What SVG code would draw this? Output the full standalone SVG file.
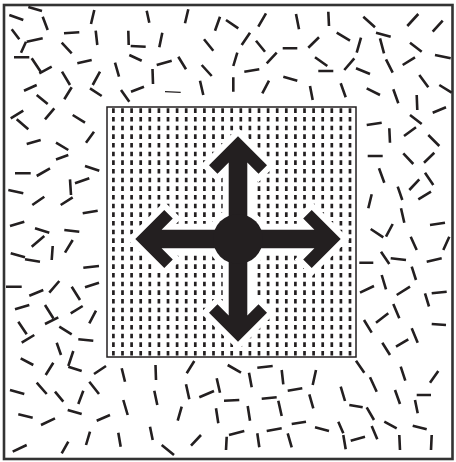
<svg xmlns="http://www.w3.org/2000/svg" width="456" height="462" viewBox="0 0 456 462">
<style>
.frame{fill:none;stroke:#333;stroke-width:2.6}
.inner{fill:#fff;stroke:#231f20;stroke-width:1.5}
.hatch{fill:none;stroke:#231f20;stroke-width:2.7;stroke-dasharray:4.6 4.067}
.dash{fill:none;stroke:#231f20;stroke-width:2.6;stroke-linecap:butt}
.thin{fill:none;stroke:#231f20;stroke-width:1.2}
.halo{fill:#fff;stroke:#fff;stroke-width:12;stroke-linejoin:miter}
.solid{fill:#231f20;stroke:none}
</style>
<defs>
<g id="arrowShape">
<polygon points="238,136.3 267,165.3 258.5,173.8 247.3,162.6 247.3,229.7 314.4,229.7 303.2,218.5 311.7,210 340.7,239 311.7,268 303.2,259.5 314.4,248.3 247.3,248.3 247.3,315.4 258.5,304.2 267,312.7 238,341.7 209,312.7 217.5,304.2 228.7,315.4 228.7,248.3 161.6,248.3 172.8,259.5 164.3,268 135.3,239 164.3,210 172.8,218.5 161.6,229.7 228.7,229.7 228.7,162.6 217.5,173.8 209,165.3"/>
<circle cx="238" cy="239" r="25"/>
</g>
</defs>
<rect width="456" height="462" fill="#fff"/>
<rect class="frame" x="4" y="5" width="448.5" height="454"/>
<g id="scatter">
<path class="dash" d="M9.3 15L23.3 20M28.3 7L42 11M42.7 16.7L47.7 30M94.3 10L91 24M146.7 10.7L149.3 22.7M11.7 29.3L19.3 39.3M26.7 41.7L42.7 38.3M26 41.7L21 52.7M64 33.3L79.3 32.3M95.7 30.7L97.3 45M128.3 30.7L128.7 45M130.7 46L145.7 46.7M61.7 42.7L71.7 53.3M14 57.3L29.3 57.3M31.7 58.3L40.7 71.7M39.3 73.3L51.7 66.7M77.3 63.3L91.7 60M115 62.7L119 76.7M129.3 55L141.7 60.7M152.5 69L153 84M62 71.7L70 85M100 71.7L92.7 85M24 90.7L36.7 85M71.7 87.3L64.3 99.3M90 88.3L101.7 96M121 90L129.3 101.7M131 91.7L144 86.7M36.7 95L47.7 104M10.7 118.3L23.3 110.7M16.7 119.3L28.3 129.3M54.3 108.3L45 119.3M72.7 115L85 122.7M94 131.7L86 142.7M26.7 144L40.7 140M56 142.7L68.3 150M56 159.5L68.3 155"/>
<path class="dash" d="M188.3 9.3L185 23.3M220 16.7L215 30.7M226 20L238.3 28.3M266 13.3L258.3 26.7M296 14L299 29.3M162.3 32.7L159.3 47.3M250 32.7L241.7 45M204 39.3L213.3 50.7M256 40.7L265 51.7M282.7 48.3L297.3 48.3M156.7 65L171.7 60.7M178.3 56.7L186 69.3M276.7 52.7L266.7 63.3M237.3 52.7L233.3 66M201.7 65L211.7 76M244.3 71.7L259.3 69.3M200 80.7L203.3 95M233.3 77.3L233.3 91.7M269 80.7L262.3 93.3M283.3 76.7L297.3 80.7"/>
<path class="thin" d="M165 91.7L180.7 92.3"/>
<path class="dash" d="M328.3 11.7L329 26M363.3 16.7L375 27.3M407.3 26L418.3 14M432.7 31.7L442.7 20.7M308.3 47.7L319 37.3M336.7 32.7L350 40.7M376 32.7L390.7 36.7M361 37.7L356.7 52.7M380 38.3L384 53.3M410 42.7L421.7 51.7M435 55L450.7 58.3M315 57.3L327.3 66M354.3 58.3L344.3 70M386 59.3L392.7 72.7M402.7 65L415 57.3M318.3 71L333.3 71M356 68.3L370 74M419.3 75L428.3 87.3M439.3 85L451.7 92.7M310 86L312.7 100M340.7 83.3L345.7 97.3M366.7 88.3L380 95M393.3 89.3L398.3 103.3M416.7 95L417.3 110M432.7 112.7L446 107.3M410 115L421.7 124M366.7 125L381.7 122.7M404 136L416 127.3M389.3 128.3L390 142.7M428.3 135L439.3 146"/>
<path class="dash" d="M15 173.3L30.7 173.3M36.7 176L50 168.3M85 166L99.3 170.7M70 179.3L71 195M75 183.3L89.3 178.3M8.3 190L23.3 193.3M32.3 205L44.3 196.7M60.7 205L72.7 197.3M82.7 213.3L97.7 210.7M10 226L24.3 221.7M35 228.3L49.3 232.7M64.3 230L79.3 231.7M31.7 246.7L44.3 236M52.7 246L51.7 260M72.7 240L65 252.7M10.7 253.3L25 257.3M25 259.3L40 261.7M83.3 267.7L99 266M6 286.7L21.7 286.7M29.3 295.7L43.3 290M49.3 292.7L59.3 281M71.7 286.7L80 300M85 287.3L99 282.7"/>
<path class="dash" d="M367.7 156L382.7 156M403.3 153.3L413.3 164M424 162.7L434.3 152.7M379 168.3L384.3 182.7M425 172.7L433.3 185M409.3 190L419.3 179.3M397.7 186.7L402.3 200M418.3 199.3L431 191.7M371.7 194.3L368.3 208.3M401 208.3L404.3 222.7M430 225L445 222.7M370.7 229L383.3 237.3M392.7 224L386 236.7M410.7 236.7L416.7 250M449.3 236.7L443.3 250M381 251.7L389.3 264M390.7 258.3L406 260M359.3 262.7L373.3 262.7M426.7 261.7L441.7 258.3M411.7 266.7L416 280M381.7 275L386 289.3M360 292.7L374 286M396.7 295L410 286.7M431.7 293.3L446.7 291.7M425 293.3L429 306.5"/>
<path class="dash" d="M15 309.3L29.3 305M45 305L53.3 318.3M45 324L58.3 317.3M70.7 313.3L82.7 306M96 310.7L89.3 323.3M18.3 321.7L26.7 334.3M21.7 342.7L34.3 335M59.3 326.7L71.7 334.3M78.3 339.3L93.3 340.7M56.7 342.7L61 355M20.7 358.3L33.3 365M73.3 351L68.3 366M68.3 366.7L81.7 371M53.3 362.7L45.7 375M106 366L94 374M121.7 368.3L125 381.7M155.5 365L156 380M10 390L24.3 394M36.7 382.7L46.7 394M89.3 381.7L99 394M55 391.7L63.3 401.7M83.3 390.7L78.3 404M123.3 400L127.7 415M154.3 390.7L157.3 405M18.3 414.3L32.7 417.7M67.7 410L81.7 414M41 425L55 418.3M96.7 420.7L110 415M90 431.7L86 445M118.3 432.7L120.7 446.7M150 426.7L152.7 440M12.7 451.7L26.7 445M68.3 441.7L61.7 453.3"/>
<path class="dash" d="M194.3 361L186.7 373.3M227.7 365L241 372.7M257.3 367.7L272.7 366M281.7 370L283.3 384.3M216.7 378.3L220 392.7M249 372.7L251.7 387.3M186 384.3L189.3 399.3M199.3 397.3L214 391M287.7 390.7L302.3 388.3M224 400.7L239.3 400M261.7 398.7L276.7 397.3M181.7 406.7L177.7 420.7M216 408.3L218.3 423.3M247.7 406L250 420.7M278.3 400.7L281.7 416M291.7 424L306 421.7M229 435L244.3 431M226.7 436.7L226 450M201 435L191 445.7M266.7 431L281.7 428.3M257.3 433.3L259.3 447.3M161.7 445L174 455M287.7 433.3L291.7 447.3"/>
<path class="dash" d="M393.3 304L399.3 318.3M376 322.7L388.3 313.3M364 320L371.7 332.7M431.7 324L446 325M411.7 328.3L417.7 342.7M396 346.7L408.3 339.3M382.3 342.7L390 355M356 360.7L364.3 372.7M316 370L312.7 385M400.7 366.7L405.3 380.7M438.3 371L430 382.7M370 377.3L376.7 391.7M340.7 386.7L345 401M309.3 394.3L313.3 408.3M395 390L400 404M416.7 395L431 395M415 400L417.7 413.3M349.3 405L362.7 407.3M366.7 407.3L374 420M384.3 421.7L396.7 428.3M412.7 425.7L426.7 429.3M315 427.3L329 431M338.3 421.7L343.3 433.3M343.3 435L345.7 449.3M350.7 440.7L365 436.7M371.7 426L377.3 439.3M399.3 435L400 450M431.7 435L431 450"/>
</g>
<g id="field">
<rect class="inner" x="107" y="107" width="249" height="250"/>
<path class="hatch" d="M113.4 108.3V356M122.5 108.3V356M131.6 108.3V356M140.7 108.3V356M149.8 108.3V356M158.9 108.3V356M168 108.3V356M177.1 108.3V356M186.2 108.3V356M195.3 108.3V356M204.4 108.3V356M213.5 108.3V356M222.6 108.3V356M231.7 108.3V356M240.8 108.3V356M249.9 108.3V356M259 108.3V356M268.1 108.3V356M277.2 108.3V356M286.3 108.3V356M295.4 108.3V356M304.5 108.3V356M313.6 108.3V356M322.7 108.3V356M331.8 108.3V356M340.9 108.3V356M350 108.3V356"/>
</g>
<g id="arrow">
<use href="#arrowShape" class="halo"/>
<use href="#arrowShape" class="solid"/>
</g>
</svg>
